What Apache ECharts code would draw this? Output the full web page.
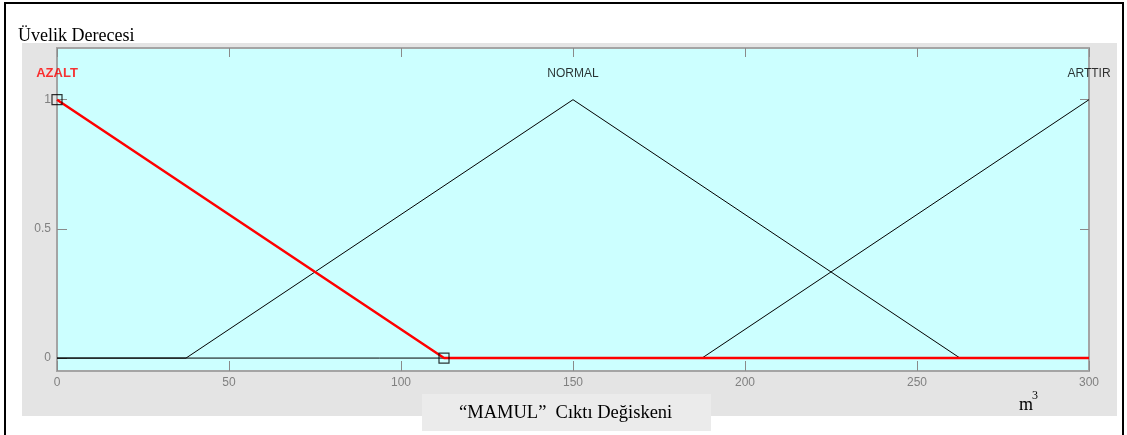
<!DOCTYPE html>
<html>
<head>
<meta charset="utf-8">
<script src="https://cdn.jsdelivr.net/npm/echarts@6/dist/echarts.min.js"></script>
<style>
  html, body { margin: 0; padding: 0; background: #ffffff; }
  #chart { width: 1127px; height: 435px; }
</style>
</head>
<body>
<div id="chart"></div>
<script>
// Membership functions of the output variable "MAMUL" (triangular, on 0..300 m³)
const xTicks = [0, 50, 100, 150, 200, 250, 300];
const yTicks = [0, 0.5, 1];

const mfNames = ['AZALT', 'NORMAL', 'ARTTIR'];
const mfPeaks = [0, 150, 300];
const mfLabelLevel = 1.1;

// corner points of each membership function inside the universe
const azaltX = [0, 112.5, 300];
const azaltY = [1, 0, 0];
const normalX = [0, 37.5, 150, 262.5, 300];
const normalY = [0, 0, 1, 0, 0];
const arttirX = [0, 187.5, 300];
const arttirY = [0, 0, 1];

// selected function's vertex handles
const handleX = [0, 112.5];
const handleY = [1, 0];

const zip = (xs, ys) => xs.map((x, i) => [x, ys[i]]);

const chart = echarts.init(document.getElementById('chart'), null, { renderer: 'canvas' });

const tickColor = '#8a8a8a';
const labelFont = { color: '#808080', fontSize: 12, fontFamily: 'Liberation Sans, Arial, sans-serif' };
const serif = '"Liberation Serif", "Times New Roman", serif';

chart.setOption({
  animation: false,
  backgroundColor: '#ffffff',
  graphic: [
    // outer frame
    { type: 'rect', z: -10, shape: { x: 5, y: 3, width: 1118, height: 460 },
      style: { fill: '#ffffff', stroke: '#000000', lineWidth: 2 } },
    // grey figure panel
    { type: 'rect', z: -9, shape: { x: 22, y: 43, width: 1095, height: 373 },
      style: { fill: '#e4e4e4' } },
    // caption box
    { type: 'rect', z: -8, shape: { x: 422, y: 394, width: 289, height: 37 },
      style: { fill: '#ebebeb' } },
    { type: 'text', left: 18, top: 27, z: 10,
      style: { text: 'Üvelik Derecesi', font: '18px ' + serif, fill: '#000000' } },
    { type: 'text', left: 459, top: 404, z: 10,
      style: { text: '“MAMUL”  Cıktı Değiskeni', font: '18.5px ' + serif, fill: '#000000' } },
    { type: 'text', left: 1019, top: 396, z: 10,
      style: { text: 'm', font: '18px ' + serif, fill: '#000000' } },
    { type: 'text', left: 1032, top: 390, z: 10,
      style: { text: '3', font: '12px ' + serif, fill: '#000000' } }
  ],
  grid: {
    left: 57, top: 48, right: 38, bottom: 64,
    show: true, backgroundColor: '#ccffff',
    borderColor: '#a4a4a4', borderWidth: 2,
    outerBoundsMode: 'none'
  },
  xAxis: [
    {
      type: 'value', min: 0, max: 300, interval: 50, position: 'bottom',
      axisLine: { show: false, onZero: false },
      splitLine: { show: false },
      axisTick: { show: true, inside: true, length: 10, lineStyle: { color: tickColor, width: 1 } },
      axisLabel: Object.assign({ margin: 6, showMinLabel: true, showMaxLabel: true }, labelFont)
    },
    {
      type: 'value', min: 0, max: 300, interval: 50, position: 'top',
      axisLine: { show: false, onZero: false },
      splitLine: { show: false },
      axisTick: { show: true, inside: true, length: 9, lineStyle: { color: tickColor, width: 1 } },
      axisLabel: { show: false }
    }
  ],
  yAxis: [
    {
      type: 'value', min: -0.05, max: 1.2, position: 'left',
      axisLine: { show: false, onZero: false },
      splitLine: { show: false },
      axisTick: { show: true, inside: true, length: 10, customValues: yTicks, lineStyle: { color: tickColor, width: 1 } },
      axisLabel: Object.assign({ margin: 6, customValues: yTicks, formatter: v => String(v) }, labelFont)
    },
    {
      type: 'value', min: -0.05, max: 1.2, position: 'right',
      axisLine: { show: false, onZero: false },
      splitLine: { show: false },
      axisTick: { show: true, inside: true, length: 9, customValues: yTicks, lineStyle: { color: tickColor, width: 1 } },
      axisLabel: { show: false }
    }
  ],
  series: [
    {
      name: 'NORMAL', type: 'line', data: zip(normalX, normalY),
      showSymbol: false, lineStyle: { color: '#000000', width: 1 }, z: 2
    },
    {
      name: 'ARTTIR', type: 'line', data: zip(arttirX, arttirY),
      showSymbol: false, lineStyle: { color: '#000000', width: 1 }, z: 2
    },
    {
      name: 'AZALT', type: 'line', data: zip(azaltX, azaltY),
      showSymbol: false, lineStyle: { color: '#ff0000', width: 2.5 }, z: 3
    },
    {
      type: 'scatter', data: zip(handleX, handleY), symbol: 'rect', symbolSize: 10,
      itemStyle: { color: 'rgba(0,0,0,0)', borderColor: '#000000', borderWidth: 1.2 }, z: 4
    },
    {
      type: 'scatter', symbolSize: 0, z: 5,
      data: mfNames.map((n, i) => ({
        value: [mfPeaks[i], mfLabelLevel],
        label: {
          show: true, position: 'inside', formatter: n,
          color: i === 0 ? '#ff0000' : '#000000',
          fontWeight: i === 0 ? 'bold' : 'normal',
          fontSize: i === 0 ? 13 : 12, fontFamily: 'Liberation Sans, Arial, sans-serif'
        }
      }))
    }
  ]
});
</script>
</body>
</html>
